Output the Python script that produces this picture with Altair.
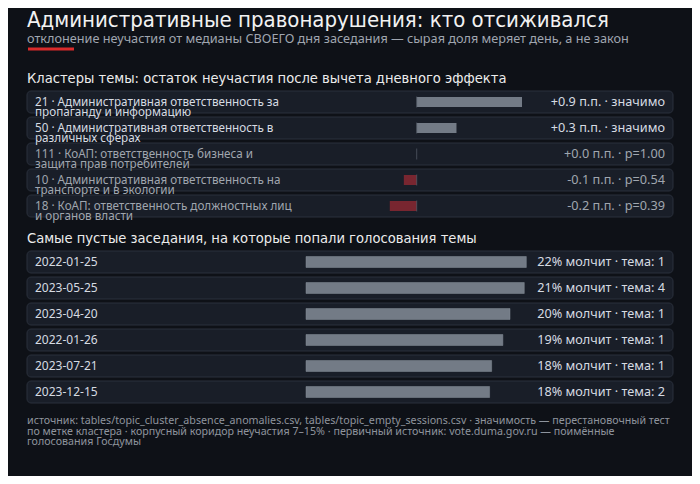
"""Altair recreation: absentee anomalies by topic cluster and emptiest sessions."""

import altair as alt
import pandas as pd

TITLE = "Административные правонарушения: кто отсиживался"
SUBTITLE = ("отклонение неучастия от медианы СВОЕГО дня заседания — "
            "сырая доля меряет день, а не закон")
HEAD_CLUSTERS = "Кластеры темы: остаток неучастия после вычета дневного эффекта"
HEAD_SESSIONS = "Самые пустые заседания, на которые попали голосования темы"
FOOTER = [
    "источник: tables/topic_cluster_absence_anomalies.csv, tables/topic_empty_sessions.csv"
    " · значимость — перестановочный тест",
    "по метке кластера · корпусный коридор неучастия 7–15% · первичный источник: "
    "vote.duma.gov.ru — поимённые",
    "голосования Госдумы",
]

# clusters
cluster_line1 = [
    "21 · Административная ответственность за",
    "50 · Административная ответственность в",
    "111 · КоАП: ответственность бизнеса и",
    "10 · Административная ответственность на",
    "18 · КоАП: ответственность должностных лиц",
]
cluster_line2 = [
    "пропаганду и информацию",
    "различных сферах",
    "защита прав потребителей",
    "транспорте и в экологии",
    "и органов власти",
]
residual_pp = [0.90, 0.34, 0.0, -0.11, -0.23]
significance = ["значимо", "значимо", "p=1.00", "p=0.54", "p=0.39"]
is_significant = [True, True, False, False, False]

# sessions
session_dates = ["2022-01-25", "2023-05-25", "2023-04-20",
                 "2022-01-26", "2023-07-21", "2023-12-15"]
silent_pct = [21.6, 21.4, 20.0, 19.3, 18.2, 18.0]
topic_votes = [1, 4, 1, 1, 1, 2]

BG = "#0e1117"
BOX_FILL = "#191e28"
BOX_STROKE = "#2a303c"
GRAY_BAR = "#737b86"
RED_BAR = "#782630"
BRIGHT = "#d6dbe2"
DIM = "#a0a6af"
BODY_FONT = "Noto Sans"
HEAD_FONT = "DejaVu Sans Condensed, Liberation Sans Narrow, Roboto"

# horizontal frame of the row boxes
BOX_L, BOX_R = 19, 665
STEP_PAD = 4 / 26

clusters = pd.DataFrame({
    "key": [s.split(" · ")[0] for s in cluster_line1],
    "label": [a + "\n" + b for a, b in zip(cluster_line1, cluster_line2)],
    "value": residual_pp,
    "sig": ["yes" if s else "no" for s in is_significant],
    "right": [f"{v:+.1f} п.п. · {s}" for v, s in zip(residual_pp, significance)],
    "sign": ["pos" if v >= 0 else "neg" for v in residual_pp],
})

sessions = pd.DataFrame({
    "date": session_dates,
    "pct": silent_pct,
    "right": [f"{round(p)}% молчит · тема: {n}" for p, n in zip(silent_pct, topic_votes)],
})

one = pd.DataFrame({"k": [0]})


def label(text, y, size, font=HEAD_FONT, color="#ececec", line_height=None):
    kw = {"lineHeight": line_height} if line_height else {}
    return alt.Chart(one).mark_text(
        align="left", baseline="alphabetic", font=font, fontSize=size,
        color=color, **kw).encode(x=alt.value(BOX_L), y=alt.value(y),
                                  text=alt.value(text))


# header
title = label(TITLE, 18.7, 22, color="#f2f2f2")
subtitle = label(SUBTITLE, 34.7, 12.7, font=BODY_FONT, color="#a0a6b0")
accent = alt.Chart(one).mark_rule(color="#d92b2b", strokeWidth=3).encode(
    x=alt.value(BOX_L + 1), x2=alt.value(BOX_L + 47), y=alt.value(41))
head1 = label(HEAD_CLUSTERS, 75.3, 14.6)
head2 = label(HEAD_SESSIONS, 235.3, 14.6)
footer = label(FOOTER, 416.3, 10.7, font=BODY_FONT, color="#8e949d",
               line_height=10.4)

# panel 1: cluster residuals
y_cl = alt.Y("key:N", sort=None, axis=None,
             scale=alt.Scale(paddingInner=STEP_PAD, paddingOuter=0, range=[83, 209]))
text_color = alt.Color("sig:N", legend=None,
                       scale=alt.Scale(domain=["yes", "no"], range=[BRIGHT, DIM]))
base1 = alt.Chart(clusters)
boxes1 = base1.mark_rect(cornerRadius=4, fill=BOX_FILL, stroke=BOX_STROKE,
                         strokeWidth=1).encode(
    y=y_cl, x=alt.value(BOX_L), x2=alt.value(BOX_R))
bars1 = base1.mark_bar(size=10).encode(
    y=y_cl,
    x=alt.X("value:Q", axis=None,
            scale=alt.Scale(domain=[-1, 1], range=[291.7, 525.7])),
    x2=alt.datum(0),
    color=alt.Color("sign:N", legend=None,
                    scale=alt.Scale(domain=["pos", "neg"], range=[GRAY_BAR, RED_BAR])),
)
zero1 = base1.mark_tick(orient="vertical", size=11, thickness=1,
                        color="#59606b").encode(y=y_cl, x=alt.datum(0))
left1 = base1.mark_text(align="left", baseline="middle", font=BODY_FONT,
                        fontSize=11.7, lineHeight=10.3, lineBreak="\n").encode(
    y=y_cl, x=alt.value(BOX_L + 8), text="label:N", color=text_color)
right1 = base1.mark_text(align="right", baseline="middle", font=BODY_FONT,
                         fontSize=12.7).encode(
    y=y_cl, x=alt.value(BOX_R - 8), text="right:N", color=text_color)
panel1 = alt.layer(boxes1, bars1, zero1, left1, right1).resolve_scale(
    color="independent")

# panel 2: emptiest sessions
y_se = alt.Y("date:N", sort=None, axis=None,
             scale=alt.Scale(paddingInner=STEP_PAD, paddingOuter=0, range=[243, 395]))
base2 = alt.Chart(sessions)
boxes2 = base2.mark_rect(cornerRadius=4, fill=BOX_FILL, stroke=BOX_STROKE,
                         strokeWidth=1).encode(
    y=y_se, x=alt.value(BOX_L), x2=alt.value(BOX_R))
bars2 = base2.mark_bar(size=11, color=GRAY_BAR, stroke="#858c96",
                       strokeWidth=0.5).encode(
    y=y_se,
    x=alt.X("pct:Q", axis=None, scale=alt.Scale(domain=[0, 25], range=[298, 553])),
    x2=alt.datum(0),
)
left2 = base2.mark_text(align="left", baseline="middle", font=BODY_FONT,
                        fontSize=12, color=BRIGHT).encode(
    y=y_se, x=alt.value(BOX_L + 8), text="date:N")
right2 = base2.mark_text(align="right", baseline="middle", font=BODY_FONT,
                         fontSize=12.7, color=BRIGHT).encode(
    y=y_se, x=alt.value(BOX_R - 8), text="right:N")
panel2 = alt.layer(boxes2, bars2, left2, right2)

chart = alt.layer(
    title, subtitle, accent, head1, head2, panel1, panel2, footer
).resolve_scale(x="independent", y="independent", color="independent").properties(
    width=684, height=468, background=BG, padding=0,
    autosize=alt.AutoSizeParams(type="none"),
).configure_view(stroke=None)

chart.save("out.html", embed_options={"renderer": "svg", "actions": False})
